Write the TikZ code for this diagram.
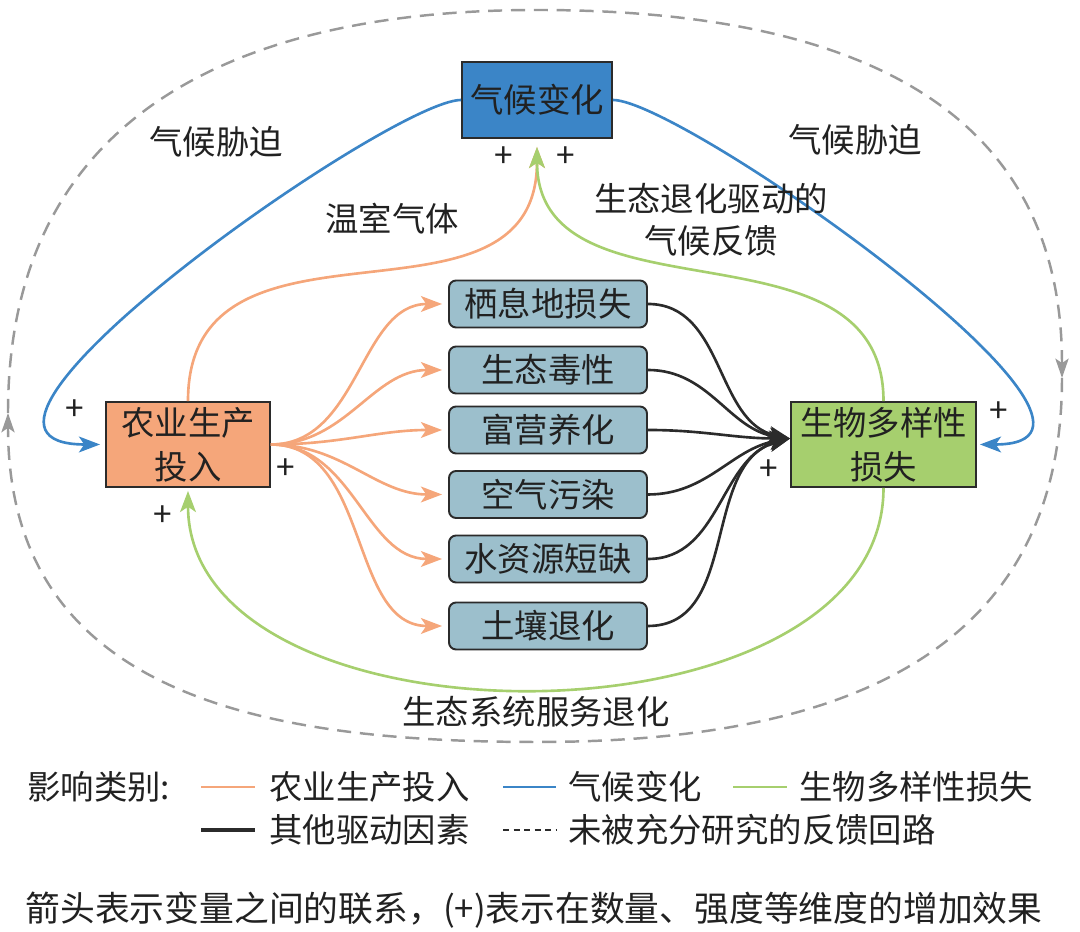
\documentclass[tikz,border=0pt]{standalone}
\usepackage{fontspec}
\setmainfont{Noto Sans CJK SC}
\usetikzlibrary{arrows.meta}
\definecolor{ClimClr}{rgb}{0.23,0.52,0.78}
\definecolor{AgriClr}{rgb}{0.96,0.65,0.48}
\definecolor{BioClr}{rgb}{0.65,0.81,0.43}
\definecolor{DrvClr}{rgb}{0.61,0.75,0.80}
\definecolor{LoopClr}{rgb}{0.6,0.6,0.6}
\definecolor{EdgeClr}{rgb}{0.17,0.17,0.17}
\definecolor{TextClr}{rgb}{0.13,0.13,0.13}

\begin{document}
\begin{tikzpicture}[x=0.02cm,y=0.02cm,
  txt/.style={font=\fontsize{19pt}{25pt}\selectfont,text=TextClr},
  mainbox/.style={txt,draw=EdgeClr,line width=1.1pt,align=center,inner sep=0pt},
  drvbox/.style={txt,draw=EdgeClr,line width=1.1pt,fill=DrvClr,rounded corners=4pt,
    minimum width=3.96cm,minimum height=0.94cm,inner sep=0pt},
  headed/.style={-{Stealth[length=12pt,width=9pt,inset=3pt]}},
  agrline/.style={headed,AgriClr,line width=1.5pt},
  climline/.style={headed,ClimClr,line width=1.5pt},
  bioline/.style={headed,BioClr,line width=1.5pt},
  drvline/.style={headed,EdgeClr,line width=1.5pt},
  loopline/.style={-{Stealth[length=11pt,width=7.5pt,inset=2.5pt]},LoopClr,
    line width=1.4pt,dash pattern=on 8pt off 5pt},
  pl/.style={txt,inner sep=0pt},
  lab/.style={txt,inner sep=0pt,align=center,font=\fontsize{19pt}{23.8pt}\selectfont}]
\useasboundingbox (0,0) rectangle (1080,932);

\node[mainbox,fill=ClimClr,minimum width=3cm,minimum height=1.52cm] (clim) at (537,832) {气候变化};
\node[mainbox,fill=AgriClr,minimum width=3.28cm,minimum height=1.7cm] (agri) at (188,487.5) {农业生产\\投入};
\node[mainbox,fill=BioClr,minimum width=3.7cm,minimum height=1.7cm] (bio) at (883.5,487.5) {生物多样性\\损失};

\node[drvbox] (hab) at (548,628) {栖息地损失};
\node[drvbox] (tox) at (548,562) {生态毒性};
\node[drvbox] (eut) at (548,502) {富营养化};
\node[drvbox] (air) at (548,437.5) {空气污染};
\node[drvbox] (wat) at (548,373) {水资源短缺};
\node[drvbox] (soil) at (548,306) {土壤退化};

\coordinate (hub) at ([yshift=0.12cm]bio.west);
\coordinate (loopL) at (8,519);
\coordinate (loopT) at (537,922);
\coordinate (loopR) at (1062,554);
\coordinate (loopB) at (537,190);

\draw[loopline] (loopL) to[out=90,in=180,looseness=1.15] (loopT) to[out=0,in=90,looseness=1.15] (loopR);
\draw[loopline] (loopR) to[out=-90,in=0,looseness=1.15] (loopB) to[out=180,in=-90,looseness=1.15] (loopL);

\draw[climline,shorten >=0.1cm] (clim.west) .. controls +(-70,0) and +(-205,0) .. (agri.west);
\draw[climline,shorten >=0.06cm] (clim.east) .. controls +(70,0) and +(195,0) .. (bio.east);

\draw[agrline,shorten >=0.16cm] (agri.north) .. controls +(0,210) and +(0,-210) .. (clim.south);
\draw[bioline,shorten >=0.16cm] (bio.north) .. controls +(0,190) and +(0,-190) .. (clim.south);
\draw[bioline,shorten >=0.06cm] (bio.south) .. controls +(0,-268) and +(0,-268) .. (agri.south);

\foreach \d in {hab,tox,eut,air,wat,soil}
  \draw[agrline,shorten >=0.12cm] (agri.east) to[out=0,in=180] (\d.west);

\draw[drvline] (hab.east) to[out=0,in=168] (hub);
\draw[drvline] (tox.east) to[out=0,in=172] (hub);
\draw[drvline] (eut.east) to[out=0,in=180] (hub);
\draw[drvline] (air.east) to[out=0,in=190] (hub);
\draw[drvline] (wat.east) to[out=0,in=195] (hub);
\draw[drvline] (soil.east) to[out=0,in=195] (hub);

\node[lab] (stressL) at (216,790) {气候胁迫};
\node[lab] (stressR) at (855,792) {气候胁迫};
\node[lab] (ghg) at (392,713) {温室气体};
\node[lab] (fback) at (711,712) {生态退化驱动的\\气候反馈};
\node[lab] (serv) at (536,220) {生态系统服务退化};

\node[pl] (p1) at (75,522) {+};
\node[pl] (p2) at (286,463) {+};
\node[pl] (p3) at (163,416) {+};
\node[pl] (p4) at (504,775) {+};
\node[pl] (p5) at (566,775) {+};
\node[pl] (p6) at (769,462) {+};
\node[pl] (p7) at (999,520) {+};

\node[pl,anchor=west] (keyhead) at (27,145) {影响类别:};
\draw[AgriClr,line width=1.5pt] (201,145) -- (255,145);
\node[pl,anchor=west] (keyagri) at (269,145) {农业生产投入};
\draw[ClimClr,line width=1.5pt] (503,145) -- (556,145);
\node[pl,anchor=west] (keyclim) at (568,145) {气候变化};
\draw[BioClr,line width=1.5pt] (733,145) -- (787,145);
\node[pl,anchor=west] (keybio) at (799,145) {生物多样性损失};
\draw[EdgeClr,line width=2.2pt] (201,102) -- (255,102);
\node[pl,anchor=west] (keydrv) at (269,102) {其他驱动因素};
\draw[EdgeClr,line width=1.5pt,dash pattern=on 3.5pt off 2.5pt] (503,102) -- (556,102);
\node[pl,anchor=west] (keyloop) at (568,102) {未被充分研究的反馈回路};

\node[pl,font=\fontsize{19.8pt}{24pt}\selectfont] (caption) at (534,22) {箭头表示变量之间的联系，(+)表示在数量、强度等维度的增加效果};

\end{tikzpicture}
\end{document}
